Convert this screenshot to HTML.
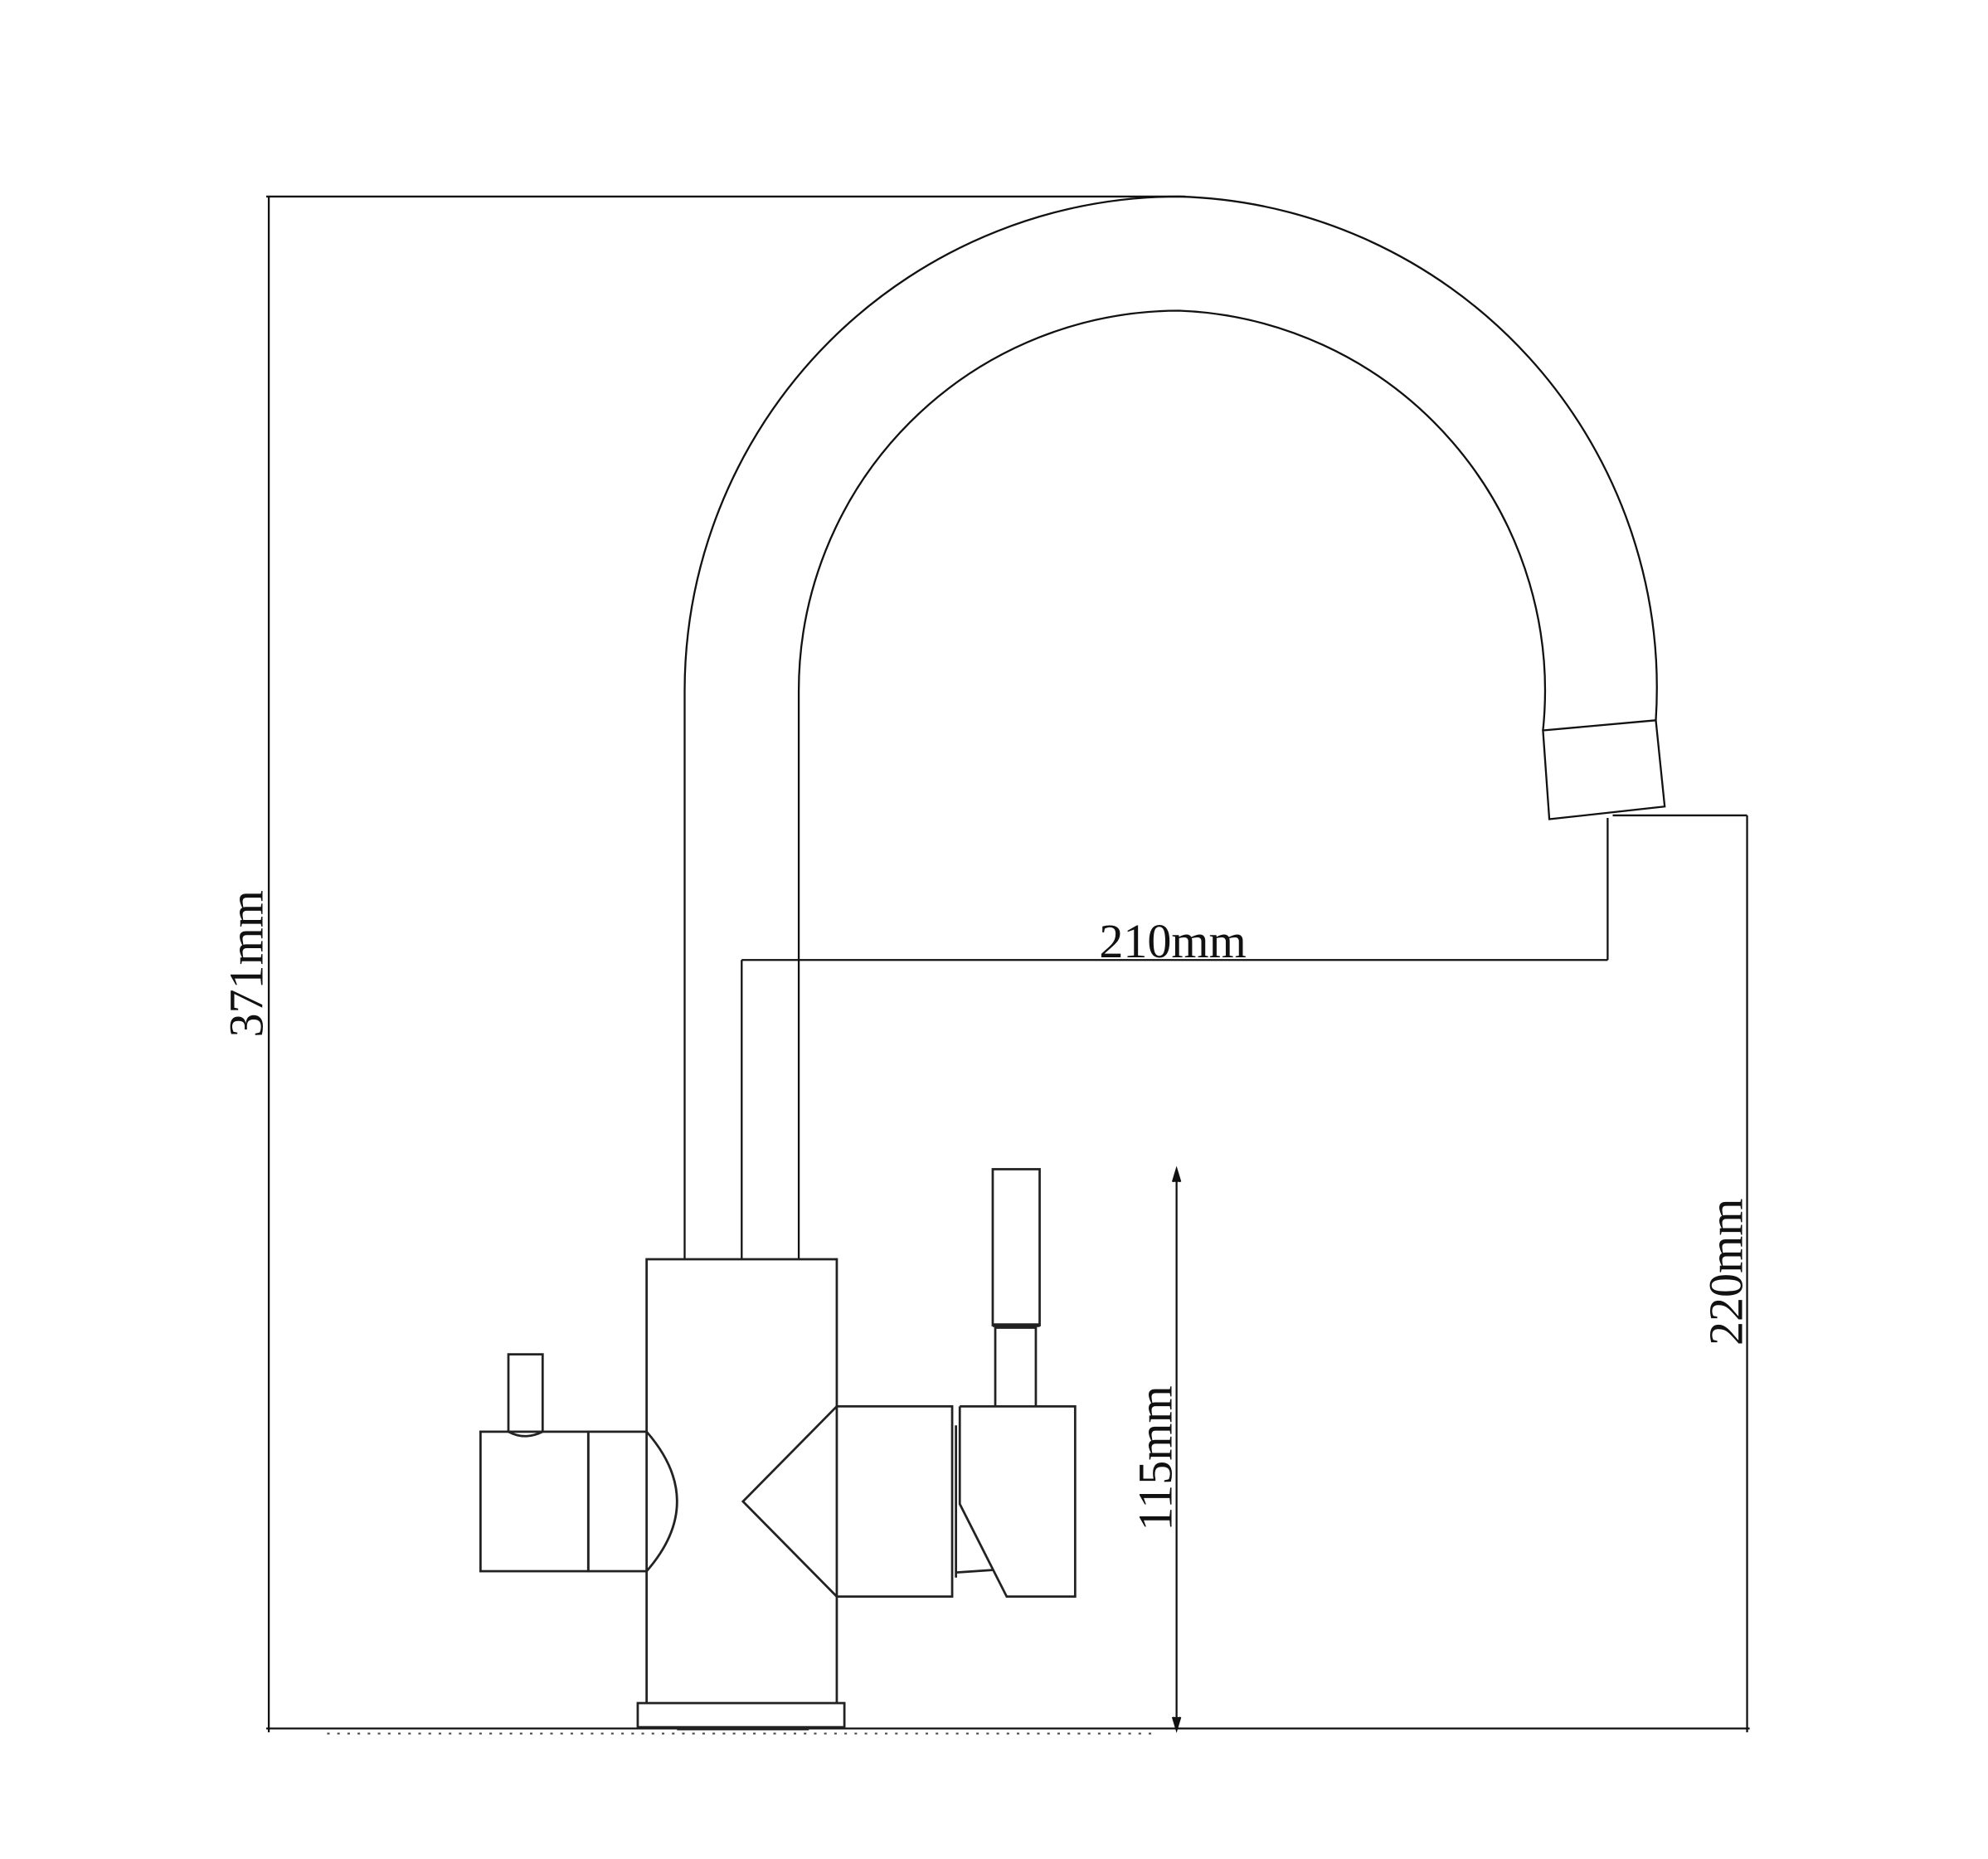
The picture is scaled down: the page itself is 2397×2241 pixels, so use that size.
<!DOCTYPE html>
<html><head><style>html,body{margin:0;padding:0;background:#fff}svg{display:block}</style></head>
<body>
<svg width="2397" height="2241" viewBox="0 0 2397 2241" xmlns="http://www.w3.org/2000/svg">
<g transform="scale(1.5287)" fill="none" stroke="#111" stroke-width="1.5">
  <!-- dimension lines -->
  <line x1="210" y1="155" x2="935" y2="155"/>
  <line x1="212" y1="155" x2="212" y2="1366"/>
  <line x1="210" y1="1363" x2="1380" y2="1363"/>
  <line x1="258" y1="1367" x2="910" y2="1367" stroke-dasharray="2,6" stroke="#555"/>
  <!-- spout arcs -->
  <path d="M540,993 L540,545 A390,390 0 0 1 930,155 A388,388 0 0 1 1306,568"/>
  <path d="M630,993 L630,545 A300,300 0 0 1 930,245 A300,300 0 0 1 1217,576"/>
  <path d="M1217,576 L1306,568 L1313,636 L1222,646 Z"/>
  <line x1="585" y1="757" x2="585" y2="993"/>
  <!-- 210 dim -->
  <line x1="585" y1="757" x2="1268" y2="757"/>
  <line x1="1268" y1="645" x2="1268" y2="757"/>
  <!-- 220 dim -->
  <line x1="1272" y1="643" x2="1378" y2="643"/>
  <line x1="1378" y1="643" x2="1378" y2="1366"/>
  <!-- 115 dim -->
  <line x1="928" y1="925" x2="928" y2="1361"/>
  <path d="M925,932 L928,922 L931,932 M925,1354 L928,1364 L931,1354" fill="#111"/>
  <g stroke="none" fill="#111" font-family="'Liberation Serif',serif" font-size="38" text-anchor="middle">
    <text x="925" y="755">210mm</text>
    <text transform="translate(207,760) rotate(-90)">371mm</text>
    <text transform="translate(1374,1003) rotate(-90)">220mm</text>
    <text transform="translate(924,1150) rotate(-90)">115mm</text>
  </g>
  <!-- body -->
  <g stroke="#222" stroke-width="1.8">
    <path d="M510,1129 L510,993 L660,993 L660,1109"/>
    <path d="M660,1259 L660,1343 M510,1239 L510,1343"/>
    <rect x="503" y="1343" width="163" height="19"/>
    <line x1="534" y1="1363" x2="638" y2="1363" stroke-width="3"/>
    <!-- left handle -->
    <rect x="379" y="1129" width="85" height="110"/>
    <rect x="464" y="1129" width="46" height="110"/>
    <path d="M510,1129 Q558,1184 510,1239"/>
    <path d="M401,1129 L401,1068 L428,1068 L428,1129 Q414,1136 401,1129"/>
    <!-- right -->
    <path d="M660,1109 L586,1184 L660,1259"/>
    <rect x="660" y="1109" width="91" height="150"/>
    <line x1="754" y1="1124" x2="754" y2="1244"/>
    <path d="M757,1109 L848,1109 L848,1259 L794,1259 L757,1186 L757,1109"/>
    <path d="M754,1240 L784,1238"/>
    <path d="M785,1109 L785,1047 L817,1047 L817,1109"/>
    <rect x="783" y="922" width="37" height="123"/>
    <line x1="783" y1="1045" x2="820" y2="1045" stroke-width="3"/>
  </g>
</g>
</svg>
</body></html>
